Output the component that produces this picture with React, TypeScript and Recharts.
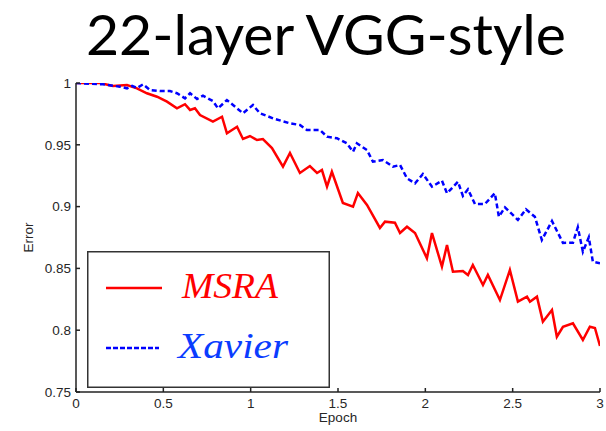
import { LineChart, Line, XAxis, YAxis, Legend } from 'recharts';

const title = '22-layer VGG-style';

const epochTicks = [0, 0.5, 1, 1.5, 2, 2.5, 3];
const errorTicks = [0.75, 0.8, 0.85, 0.9, 0.95, 1];

const msraEpoch = [
  0, 0.137, 0.212, 0.292, 0.349, 0.406, 0.464, 0.521, 0.578, 0.624, 0.653, 0.681, 0.71, 0.784, 0.836,
  0.864, 0.922, 0.956, 0.996, 1.036, 1.07, 1.122, 1.185, 1.225, 1.282, 1.339, 1.38, 1.408, 1.437, 1.465,
  1.528, 1.586, 1.614, 1.666, 1.74, 1.769, 1.826, 1.855, 1.895, 1.941, 2.009, 2.038, 2.095, 2.124, 2.158,
  2.215, 2.244, 2.272, 2.33, 2.358, 2.427, 2.484, 2.53, 2.582, 2.599, 2.639, 2.673, 2.725, 2.753, 2.788,
  2.845, 2.902, 2.942, 2.971, 3,
];
const msraError = [
  1, 1, 0.9976, 0.9984, 0.9957, 0.9917, 0.9889, 0.9849, 0.9795, 0.9828, 0.9782, 0.9795, 0.9741, 0.9687, 0.9727,
  0.9593, 0.9646, 0.9547, 0.9571, 0.9539, 0.9547, 0.9474, 0.9323, 0.9434, 0.9272, 0.9328, 0.9272, 0.9296, 0.9161, 0.9282,
  0.9029, 0.8999, 0.911, 0.9013, 0.8827, 0.8878, 0.887, 0.8786, 0.8837, 0.8786, 0.8582, 0.8786, 0.8514, 0.8689, 0.8473,
  0.8479, 0.8447, 0.8528, 0.8366, 0.8447, 0.8244, 0.8487, 0.8231, 0.8271, 0.8231, 0.8271, 0.8069, 0.8163, 0.7947, 0.8028,
  0.8056, 0.7921, 0.8028, 0.8018, 0.7872,
];

const xavierEpoch = [
  0, 0.155, 0.252, 0.292, 0.321, 0.349, 0.384, 0.424, 0.481, 0.538, 0.578, 0.624, 0.653, 0.693, 0.727,
  0.784, 0.813, 0.864, 0.899, 0.956, 1.013, 1.053, 1.128, 1.225, 1.282, 1.322, 1.397, 1.437, 1.494, 1.551,
  1.586, 1.608, 1.666, 1.7, 1.757, 1.815, 1.855, 1.895, 1.941, 1.986, 2.038, 2.095, 2.124, 2.187, 2.215,
  2.244, 2.284, 2.341, 2.398, 2.421, 2.456, 2.53, 2.576, 2.627, 2.667, 2.725, 2.788, 2.845, 2.873, 2.902,
  2.936, 2.959, 3,
];
const xavierError = [
  1, 0.9989, 0.997, 0.9957, 0.9976, 0.996, 0.9989, 0.9943, 0.9935, 0.9935, 0.9917, 0.9876, 0.9917, 0.9871, 0.9897,
  0.9854, 0.9795, 0.9862, 0.9822, 0.9755, 0.9822, 0.9755, 0.9714, 0.9674, 0.966, 0.962, 0.962, 0.9566, 0.9553, 0.9512,
  0.9444, 0.9512, 0.9458, 0.9363, 0.9377, 0.9323, 0.9337, 0.9229, 0.9188, 0.9264, 0.9161, 0.921, 0.9108, 0.9201, 0.9086,
  0.914, 0.9021, 0.9021, 0.9108, 0.8918, 0.8994, 0.8892, 0.8978, 0.8918, 0.873, 0.8883, 0.8706, 0.8708, 0.8833, 0.8635,
  0.8752, 0.8554, 0.8541,
];

const msraData = msraEpoch.map((epoch, i) => ({ epoch, error: msraError[i] }));
const xavierData = xavierEpoch.map((epoch, i) => ({ epoch, error: xavierError[i] }));

const TEXT_COLOR = '#262626';
const AXIS_COLOR = '#222';
const tickStyle = { fill: TEXT_COLOR, fontSize: 13.5, fontFamily: 'Liberation Sans, Arial, sans-serif' };

function LegendBox({ payload }: any) {
  const items = payload || [];
  const textColors: Record<string, string> = { MSRA: '#ff0000', Xavier: '#0a3cff' };
  const textWidths: Record<string, number> = { MSRA: 96, Xavier: 110 };
  return (
    <svg width={243} height={137} style={{ display: 'block' }}>
      <rect x={0.75} y={0.75} width={241.5} height={135.5} fill="#fff" stroke="#333" strokeWidth={1.5} />
      {items.map((item: any, i: number) => {
        const y = 37 + i * 60;
        return (
          <g key={item.value}>
            <line
              x1={19}
              x2={i === 0 ? 75 : 72}
              y1={y}
              y2={y}
              stroke={item.color}
              strokeWidth={2.5}
              strokeDasharray={i === 0 ? undefined : '5 2'}
            />
            <text
              x={i === 0 ? 95 : 91}
              y={y + 10}
              fill={textColors[item.value] || item.color}
              fontFamily="Liberation Serif, serif"
              fontStyle="italic"
              fontSize={35}
              textLength={textWidths[item.value]}
              lengthAdjust="spacingAndGlyphs"
            >
              {item.value}
            </text>
          </g>
        );
      })}
    </svg>
  );
}

export default function App() {
  return (
    <div style={{ position: 'absolute', left: 0, top: 0, width: 606, height: 431, background: '#fff' }}>
      <svg width={606} height={80} style={{ position: 'absolute', left: 0, top: 0 }}>
        <text
          x={86}
          y={55}
          fontFamily="Lato, sans-serif"
          fontSize={57}
          fill="#000"
          textLength={480}
          lengthAdjust="spacingAndGlyphs"
        >
          {title}
        </text>
      </svg>
      <LineChart width={606} height={431} margin={{ top: 83, right: 6, bottom: 0, left: 0 }}>
        <XAxis
          dataKey="epoch"
          type="number"
          domain={[0, 3]}
          ticks={epochTicks}
          allowDataOverflow
          height={39}
          tickSize={-4}
          tickMargin={10}
          tick={tickStyle}
          stroke={AXIS_COLOR}
          strokeWidth={1.5}
          label={{ value: 'Epoch', position: 'insideBottom', offset: 9, fill: TEXT_COLOR, fontSize: 13.5, fontFamily: 'Liberation Sans, Arial, sans-serif' }}
        />
        <YAxis
          type="number"
          domain={[0.75, 1]}
          ticks={errorTicks}
          allowDataOverflow
          width={76}
          tickSize={-4}
          tickMargin={9}
          tick={tickStyle}
          stroke={AXIS_COLOR}
          strokeWidth={1.5}
          label={{ value: 'Error', angle: -90, position: 'insideLeft', offset: 28, fill: TEXT_COLOR, fontSize: 13.5, fontFamily: 'Liberation Sans, Arial, sans-serif', style: { textAnchor: 'middle' } }}
        />
        <Legend
          layout="vertical"
          align="center"
          verticalAlign="middle"
          content={LegendBox}
          wrapperStyle={{ position: 'absolute', left: 87, top: 251, width: 243, height: 137 }}
        />
        <Line
          data={msraData}
          dataKey="error"
          name="MSRA"
          type="linear"
          stroke="#ff0000"
          strokeWidth={2.5}
          dot={false}
          activeDot={false}
          isAnimationActive={false}
        />
        <Line
          data={xavierData}
          dataKey="error"
          name="Xavier"
          type="linear"
          stroke="#0000ff"
          strokeWidth={2.5}
          strokeDasharray="5 3"
          dot={false}
          activeDot={false}
          isAnimationActive={false}
        />
      </LineChart>
    </div>
  );
}
